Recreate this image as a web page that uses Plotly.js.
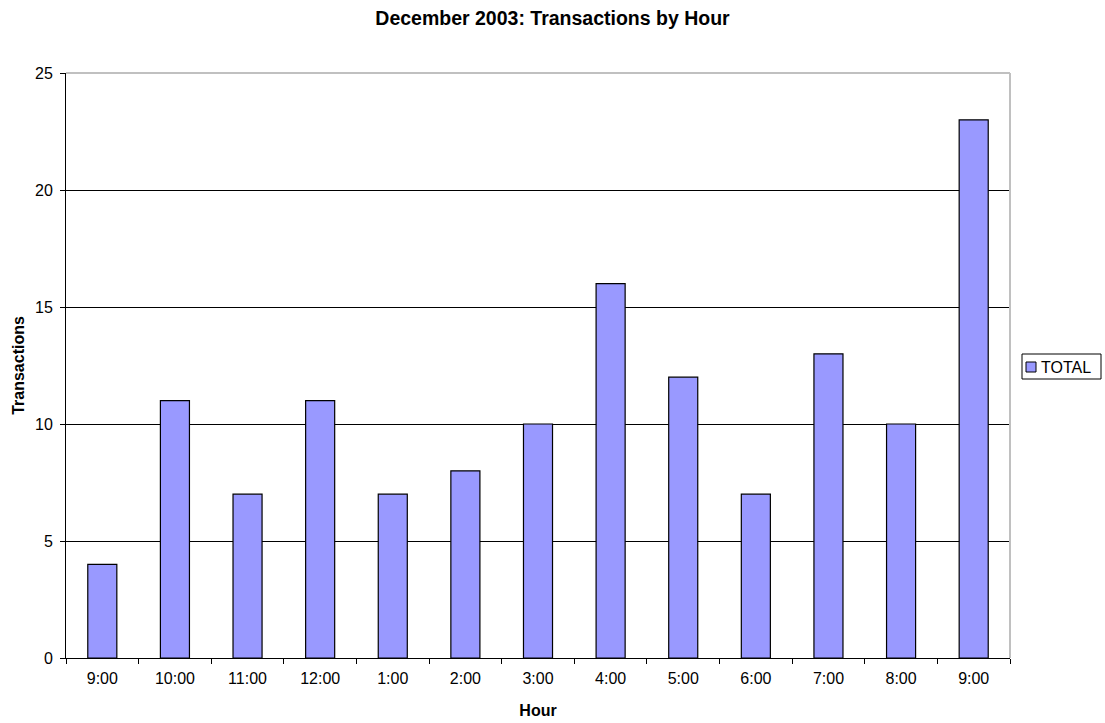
<!DOCTYPE html>
<html>
<head>
<meta charset="utf-8">
<script src="https://cdn.plot.ly/plotly-3.0.1.min.js"></script>
<style>
  html, body { margin: 0; padding: 0; background: #fff; }
  #plot { width: 1105px; height: 723px; }
</style>
</head>
<body>
<div id="plot"></div>
<script>
var hours = ['9:00', '10:00', '11:00', '12:00', '1:00', '2:00', '3:00', '4:00', '5:00', '6:00', '7:00', '8:00', '9:00'];
var totals = [4, 11, 7, 11, 7, 8, 10, 16, 12, 7, 13, 10, 23];
var seriesName = 'TOTAL';

var pos = [];
for (var i = 0; i < hours.length; i++) {
  pos.push(i);
}

// plot area in pixels, used to place the hand-made legend box
var L = 66, R = 1010, T = 73, B = 658;
function px(x) { return (x - L) / (R - L); }
function py(y) { return (B - y) / (B - T); }

var trace1 = {
  x: pos,
  y: totals,
  type: 'bar',
  name: seriesName,
  marker: { color: '#9999ff', line: { color: '#000000', width: 1.2 } },
  width: 0.4,
};

var layout = {
  width: 1105,
  height: 723,
  margin: { l: L, r: 1105 - R, t: T, b: 723 - B },
  paper_bgcolor: '#ffffff',
  plot_bgcolor: '#ffffff',
  font: { family: 'Liberation Sans, Arial, sans-serif', size: 16, color: '#000' },
  title: {
    text: '<b>December 2003: Transactions by Hour</b>',
    font: { size: 19.5 },
    x: 0.5, xref: 'container',
    y: 1 - 18 / 723, yanchor: 'middle', yref: 'container',
  },
  xaxis: {
    range: [-0.5, 12.5],
    tickvals: pos,
    ticktext: hours,
    ticks: '',
    ticklabelstandoff: 6,
    showgrid: false,
    zeroline: false,
    showline: true,
    linecolor: '#000',
    linewidth: 1,
    minor: { tick0: 0.5, dtick: 1, ticks: 'outside', ticklen: 5, tickcolor: '#000', showgrid: false },
    title: { text: '<b>Hour</b>', font: { size: 16 }, standoff: 18 },
  },
  yaxis: {
    range: [0, 25],
    dtick: 5,
    ticks: 'outside',
    ticklen: 5,
    tickcolor: '#000',
    ticklabelstandoff: 4,
    showgrid: true,
    gridcolor: '#000',
    gridwidth: 1,
    zeroline: false,
    showline: true,
    linecolor: '#000',
    title: { text: '<b>Transactions</b>', font: { size: 16 }, standoff: 6 },
  },
  showlegend: false,
  shapes: [
    { type: 'line', xref: 'paper', yref: 'paper', x0: 0, x1: 1, y0: 1, y1: 1, line: { color: '#c0c0c0', width: 2 }, layer: 'above' },
    { type: 'line', xref: 'paper', yref: 'paper', x0: 1, x1: 1, y0: 0, y1: 1, line: { color: '#c0c0c0', width: 2 }, layer: 'above' },
    // legend box
    { type: 'rect', xref: 'paper', yref: 'paper', x0: px(1022), x1: px(1101), y0: py(379), y1: py(354), line: { color: '#000', width: 1 }, fillcolor: '#fff' },
    { type: 'rect', xref: 'paper', yref: 'paper', x0: px(1026), x1: px(1036), y0: py(372), y1: py(362), line: { color: '#000', width: 1 }, fillcolor: '#9999ff' },
  ],
  annotations: [
    { text: seriesName, xref: 'paper', yref: 'paper', x: px(1039), y: py(367), xanchor: 'left', yanchor: 'middle', showarrow: false, font: { size: 16 } },
  ],
};

Plotly.newPlot('plot', [trace1], layout, { displayModeBar: false });
</script>
</body>
</html>
